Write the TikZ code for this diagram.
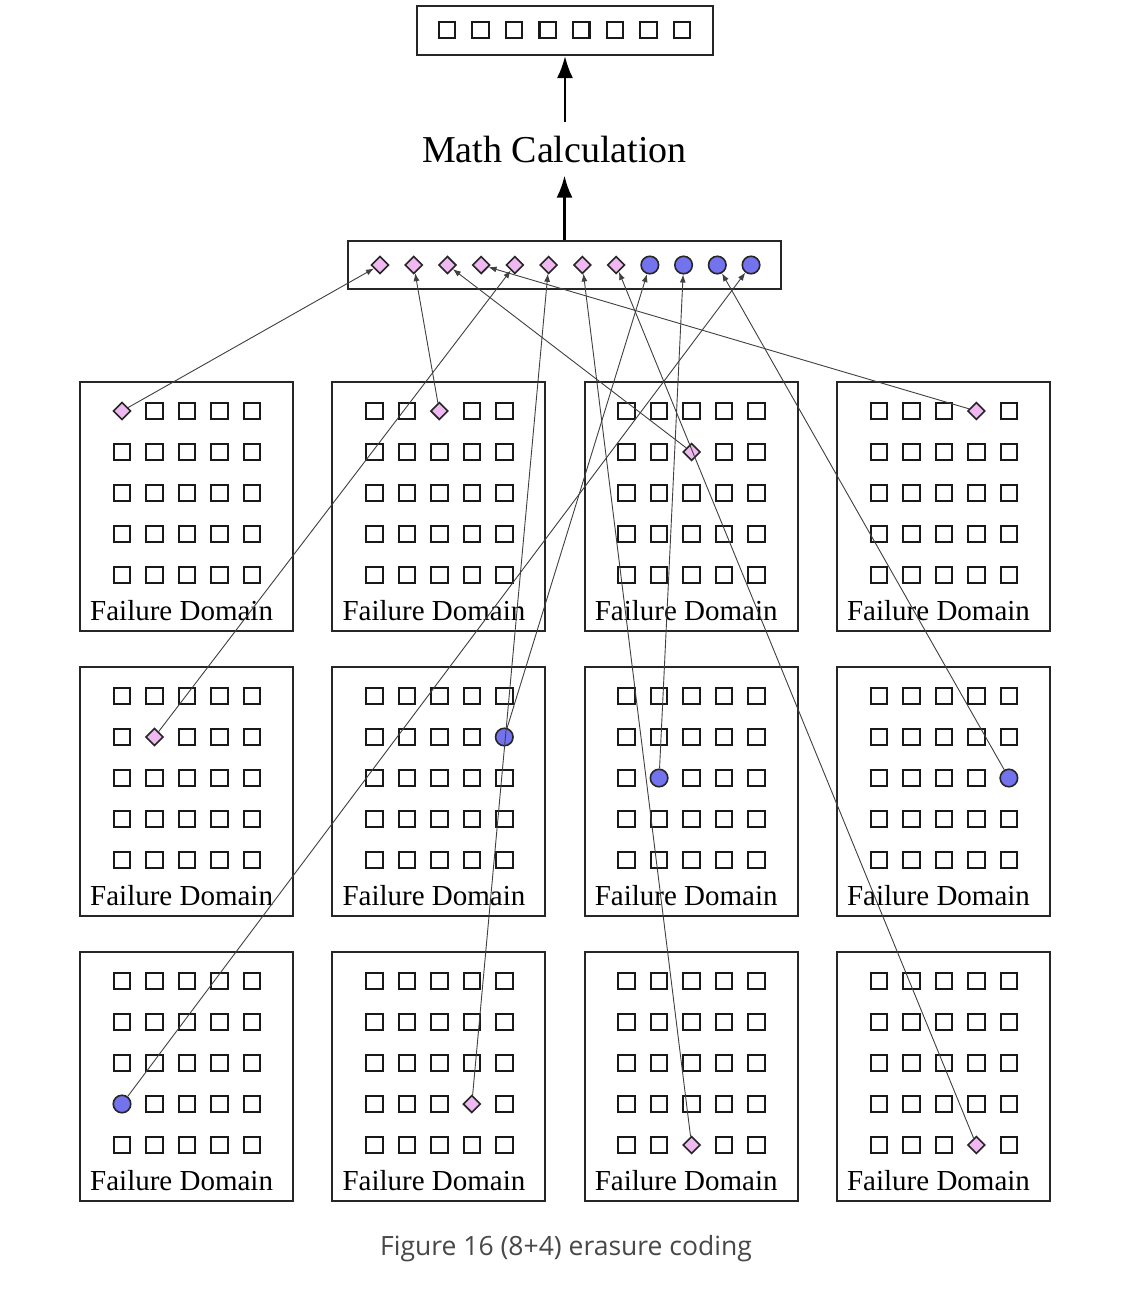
\documentclass[tikz,border=0pt]{standalone}
\usepackage{fontspec}
\setmainfont{Liberation Serif}
\newfontfamily\capfont{Open Sans}
\usetikzlibrary{arrows.meta,shapes.geometric}
\definecolor{pinkfill}{RGB}{240,184,240}
\definecolor{bluefill}{RGB}{115,115,238}
\definecolor{capgray}{RGB}{72,72,72}
\def\mkspecial#1{\expandafter\def\csname sp#1\endcsname{}}
\mkspecial{0000}\mkspecial{0102}\mkspecial{0212}\mkspecial{0303}
\mkspecial{1011}\mkspecial{1114}\mkspecial{1221}\mkspecial{1324}
\mkspecial{2030}\mkspecial{2133}\mkspecial{2242}\mkspecial{2343}
\newcommand\spnode[5]{\node[#1] (c#2#3#4#5) at ({80+252.3*#3+42+32.5*#5},{382+285*#2+29+41*#4}) {};}
\tikzset{
 sq/.style={draw=black!90,line width=2.1pt,minimum size=16.5pt,inner sep=0pt},
 dia/.style={diamond,draw=black!85,fill=pinkfill,line width=1.6pt,minimum size=17.5pt,inner sep=0pt},
 circ/.style={circle,draw=black!85,fill=bluefill,line width=1.6pt,minimum size=17.5pt,inner sep=0pt},
 frame/.style={draw=black!85,line width=2pt,inner sep=0pt},
 conn/.style={draw=black!75,line width=0.9pt,-{Latex[length=8pt,width=6pt]}},
 big/.style={draw=black,line width=2.5pt,-{Latex[length=22pt,width=16pt]}},
 fd/.style={font=\fontsize{29}{32}\selectfont,anchor=base west,inner sep=0pt},
}
\begin{document}
\begin{tikzpicture}[x=1pt,y=-1pt]
\useasboundingbox[fill=white] (0,0) rectangle (1136,1310);
% top box
\node[frame,minimum width=296pt,minimum height=49pt] (top) at (565,30.5) {};
\foreach \k in {0,...,7} \node[sq] (t\k) at ({447+33.57*\k},30) {};
% math text
\node[font=\fontsize{38}{40}\selectfont,inner xsep=0pt,inner ysep=13pt,anchor=base] (math) at (554.5,162) {Math Calculation};
% middle box
\node[frame,minimum width=433pt,minimum height=48pt] (mid) at (564.5,265) {};
\foreach \k in {1,...,8} \node[dia] (m\k) at ({380+33.73*(\k-1)},265) {};
\foreach \k in {9,...,12} \node[circ] (m\k) at ({380+33.73*(\k-1)},265) {};
\draw[big] (mid.north) -- (mid.north |- math.south);
\draw[big] (top.south |- math.north) -- (top.south);
% domains
\foreach \r in {0,1,2} \foreach \c in {0,1,2,3} {
 \node[frame,minimum width=213pt,minimum height=249pt] (d\r\c) at ({80+252.3*\c+106.5},{382+285*\r+124.5}) {};
 \node[fd] (fd\r\c) at ({80+252.3*\c+10},{382+285*\r+238}) {Failure Domain};
}
\foreach \r in {0,1,2} \foreach \c in {0,...,3} \foreach \i in {0,...,4} \foreach \j in {0,...,4} {
 \ifcsname sp\r\c\i\j\endcsname\else
 \node[sq] (c\r\c\i\j) at ({80+252.3*\c+42+32.5*\j},{382+285*\r+29+41*\i}) {};
 \fi
}
\spnode{dia}{0}{0}{0}{0}
\spnode{dia}{0}{1}{0}{2}
\spnode{dia}{0}{2}{1}{2}
\spnode{dia}{0}{3}{0}{3}
\spnode{dia}{1}{0}{1}{1}
\spnode{circ}{1}{1}{1}{4}
\spnode{circ}{1}{2}{2}{1}
\spnode{circ}{1}{3}{2}{4}
\spnode{circ}{2}{0}{3}{0}
\spnode{dia}{2}{1}{3}{3}
\spnode{dia}{2}{2}{4}{2}
\spnode{dia}{2}{3}{4}{3}
% connectors
\draw[conn] (c0000) -- (m1);
\draw[conn] (c0102) -- (m2);
\draw[conn] (c0212) -- (m3);
\draw[conn] (c0303) -- (m4);
\draw[conn] (c1011) -- (m5);
\draw[conn] (c2133) -- (m6);
\draw[conn] (c2242) -- (m7);
\draw[conn] (c2343) -- (m8);
\draw[conn] (c1114) -- (m9);
\draw[conn] (c1221) -- (m10);
\draw[conn] (c1324) -- (m11);
\draw[conn] (c2030) -- (m12);
% caption
\node[font=\capfont\fontsize{26.5}{30}\selectfont,text=capgray] (cap) at (566,1249) {Figure 16 (8+4) erasure coding};
\end{tikzpicture}
\end{document}
